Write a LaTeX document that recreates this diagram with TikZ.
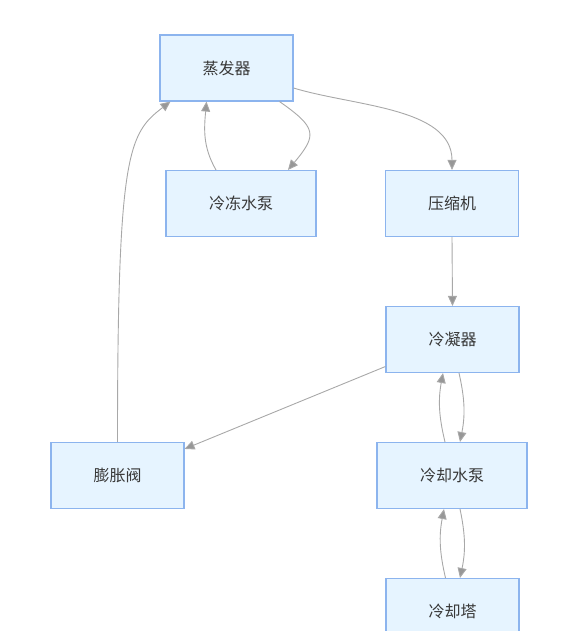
\documentclass[tikz,border=0pt]{standalone}
\usepackage{fontspec}
\newfontfamily\cjk{Noto Sans CJK SC}
\usetikzlibrary{arrows.meta}
\definecolor{boxfill}{HTML}{E6F4FF}
\definecolor{boxline}{HTML}{8CB4EE}
\definecolor{flowgray}{HTML}{A8A8A8}
\tikzset{
  box/.style={rectangle, draw=boxline, fill=boxfill, line width=1.1pt,
    minimum width=133pt, minimum height=66pt, text=black!78,
    font=\cjk\fontsize{16}{19}\selectfont},
  flow/.style={draw=flowgray, line width=0.9pt,
    -{Triangle[length=10pt,width=9pt,fill=flowgray!90!black]}}
}
\begin{document}
\begin{tikzpicture}[x=1pt,y=1pt]
\useasboundingbox (0,0) rectangle (563,-631);

\node[box] (evap)  at (226.5,-68) {蒸发器};
\node[box, minimum width=150pt] (chwpump) at (241,-203.5) {冷冻水泵};
\node[box] (comp)  at (452,-203.5) {压缩机};
\node[box] (cond)  at (452.5,-339.5) {冷凝器};
\node[box] (valve) at (117.5,-475.5) {膨胀阀};
\node[box, minimum width=150pt] (cwpump) at (452,-475.5) {冷却水泵};
\node[box] (tower) at (452.5,-611.5) {冷却塔};

\path[every edge/.style={flow}]
    ([yshift=-20pt]evap.east) edge[out=-17, in=90, looseness=0.9] (comp.north)
    ([xshift=53pt]evap.south) edge[out=-35, in=50, looseness=1.7] ([xshift=47pt]chwpump.north)
    ([xshift=-25pt]chwpump.north) edge[out=120, in=-95] ([xshift=-20pt]evap.south)
    (comp.south) edge (cond.north)
    ([yshift=-27pt]cond.west) edge ([yshift=-7pt]valve.north east)
    ([xshift=-7pt]cwpump.north) edge[bend left=12] ([xshift=-9.5pt]cond.south)
    ([xshift=6.5pt]cond.south) edge[bend left=12] ([xshift=8pt]cwpump.north)
    ([xshift=-7pt]tower.north) edge[bend left=12] ([xshift=-8pt]cwpump.south)
    ([xshift=8pt]cwpump.south) edge[bend left=12] ([xshift=7.5pt]tower.north);
\draw[flow] (valve.north) .. controls +(0,290) and +(-42,-32) .. ([xshift=-56pt]evap.south);
\end{tikzpicture}
\end{document}
